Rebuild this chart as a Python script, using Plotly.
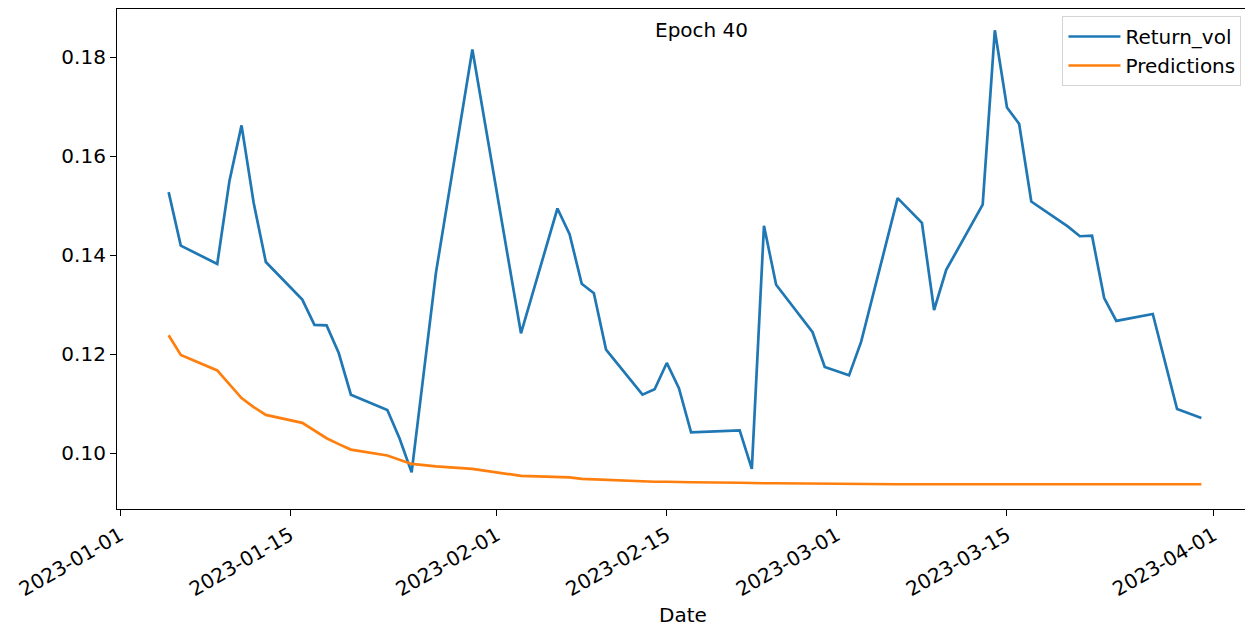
import plotly.graph_objects as go

dates = ["2023-01-05", "2023-01-06", "2023-01-09", "2023-01-10", "2023-01-11", "2023-01-12",
         "2023-01-13", "2023-01-16", "2023-01-17", "2023-01-18", "2023-01-19", "2023-01-20",
         "2023-01-23", "2023-01-24", "2023-01-25", "2023-01-27", "2023-01-30", "2023-02-03",
         "2023-02-06", "2023-02-07", "2023-02-08", "2023-02-09", "2023-02-10", "2023-02-13",
         "2023-02-14", "2023-02-15", "2023-02-16", "2023-02-17", "2023-02-21", "2023-02-22",
         "2023-02-23", "2023-02-24", "2023-02-27", "2023-02-28", "2023-03-02", "2023-03-03",
         "2023-03-06", "2023-03-08", "2023-03-09", "2023-03-10", "2023-03-13", "2023-03-14",
         "2023-03-15", "2023-03-16", "2023-03-17", "2023-03-20", "2023-03-21", "2023-03-22",
         "2023-03-23", "2023-03-24", "2023-03-27", "2023-03-29", "2023-03-31"]

return_vol = [0.1527, 0.1419, 0.1382, 0.1549, 0.1662, 0.1505,
              0.1386, 0.1310, 0.1259, 0.1258, 0.1202, 0.1118,
              0.1087, 0.1030, 0.0961, 0.1364, 0.1815, 0.1242,
              0.1494, 0.1442, 0.1342, 0.1323, 0.1209, 0.1118,
              0.1129, 0.1182, 0.1131, 0.1042, 0.1046, 0.0968,
              0.1459, 0.1340, 0.1244, 0.1174, 0.1157, 0.1225,
              0.1515, 0.1465, 0.1289, 0.1370, 0.1502, 0.1854,
              0.1698, 0.1665, 0.1508, 0.1458, 0.1438, 0.1439,
              0.1313, 0.1267, 0.1281, 0.1089, 0.1071]

predictions = [0.1238, 0.1198, 0.1167, 0.1138, 0.1111, 0.1093,
               0.1077, 0.1061, 0.1045, 0.1030, 0.1018, 0.1007,
               0.0995, 0.0986, 0.0978, 0.0973, 0.0968, 0.0954,
               0.0952, 0.0951, 0.0948, 0.0947, 0.0945, 0.0943,
               0.0942, 0.0942, 0.0941, 0.0941, 0.0940, 0.0939,
               0.0939, 0.0939, 0.0938, 0.0938, 0.0937, 0.0937,
               0.0937, 0.0937, 0.0937, 0.0937, 0.0937, 0.0937,
               0.0937, 0.0937, 0.0937, 0.0937, 0.0937, 0.0937,
               0.0937, 0.0937, 0.0937, 0.0937, 0.0937]

x_tick_vals = ["2023-01-01", "2023-01-15", "2023-02-01", "2023-02-15",
               "2023-03-01", "2023-03-15", "2023-04-01"]
y_tick_vals = [0.10, 0.12, 0.14, 0.16, 0.18]

FONT = "DejaVu Sans, sans-serif"
FS = 20

# page body has an 8px margin; figure size/margins compensate for it
fig = go.Figure()
fig.add_trace(go.Scatter(x=dates, y=return_vol, mode="lines", name="Return_vol",
                         line=dict(color="#1f77b4", width=2.7)))
fig.add_trace(go.Scatter(x=dates, y=predictions, mode="lines", name="Predictions",
                         line=dict(color="#ff7f0e", width=2.7)))

fig.update_layout(
    width=1245, height=620,
    margin=dict(l=109, r=1, t=1, b=119),
    paper_bgcolor="white", plot_bgcolor="white",
    font=dict(family=FONT, size=FS, color="#000000"),
    showlegend=True,
    legend=dict(x=0.9907, y=0.986, xanchor="right", yanchor="top",
                bgcolor="rgba(255,255,255,0.8)", bordercolor="#d4d4d4", borderwidth=1,
                font=dict(family=FONT, size=FS, color="#000000"),
                itemwidth=52, tracegroupgap=2),
    xaxis=dict(
        type="date",
        range=["2022-12-31 18:00", "2023-04-04 04:00"],
        tickvals=x_tick_vals, ticktext=x_tick_vals,
        tickangle=-30, ticks="outside", ticklen=6, tickwidth=1.2, tickcolor="#000",
        showgrid=False, zeroline=False,
        showline=True, linecolor="#000", linewidth=1.2, mirror=True,
        tickfont=dict(family=FONT, size=FS, color="#000"),
    ),
    yaxis=dict(
        range=[0.0887, 0.1897],
        tickvals=y_tick_vals, tickformat=".2f",
        ticks="outside", ticklen=6, tickwidth=1.2, tickcolor="#000",
        showgrid=False, zeroline=False,
        showline=True, linecolor="#000", linewidth=1.2, mirror=True,
        tickfont=dict(family=FONT, size=FS, color="#000"),
    ),
    annotations=[
        dict(text="Epoch 40", xref="paper", yref="paper", x=0.5154, y=0.958,
             xanchor="center", yanchor="middle", showarrow=False,
             font=dict(family=FONT, size=FS, color="#000")),
        dict(text="Date", xref="paper", yref="paper", x=0.4987, y=-0.212,
             xanchor="center", yanchor="middle", showarrow=False,
             font=dict(family=FONT, size=FS, color="#000")),
    ],
)

fig.write_html("out.html")
